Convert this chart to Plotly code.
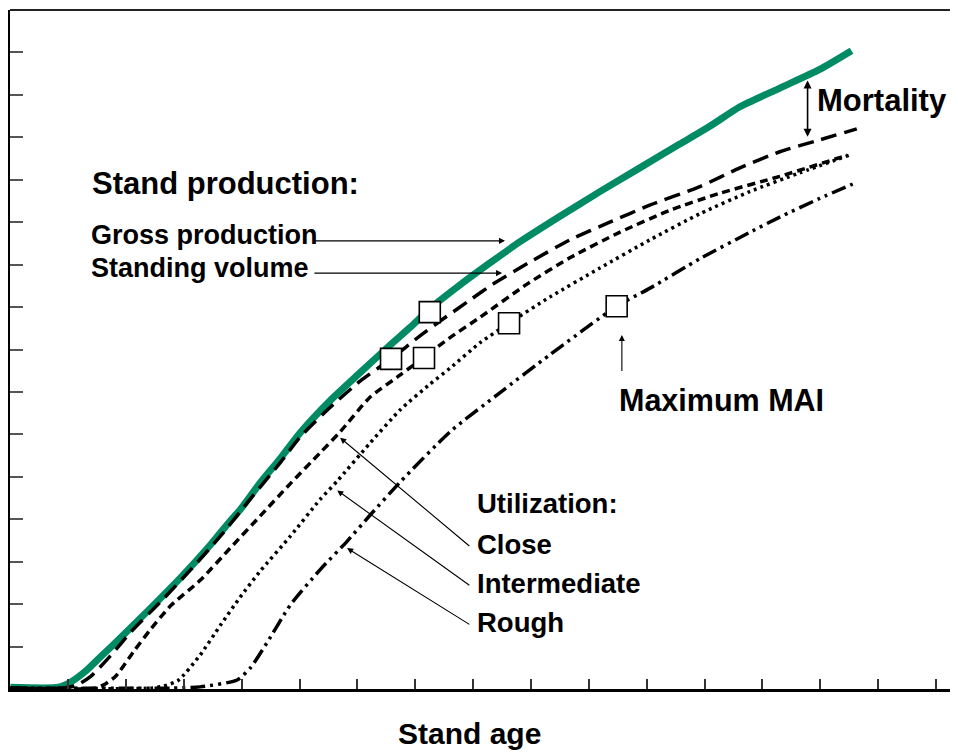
import plotly.graph_objects as go

# ---- data (stand age in years, volume in m3/ha) ----
gross_age = [0, 8.3, 10.4, 13.0, 15.6, 19.0, 24.2, 29.4, 34.6, 38.0, 39.7, 43.2, 46.7, 50.1, 55.3, 60.5,
             65.6, 69.1, 72.5, 77.7, 82.9, 88.1, 95.0, 101.9, 108.8, 115.7, 120.9, 126.1, 133.0, 139.9, 145.4]
gross_vol = [2, 2, 8, 21, 38, 60, 95, 131, 170, 198, 211, 243, 272, 302, 340, 373,
             405, 426, 448, 476, 502, 527, 557, 586, 614, 642, 663, 686, 708, 730, 752]

stand_age = [0, 8.7, 11.3, 13.9, 17.3, 20.8, 26.0, 31.1, 36.3, 41.5, 46.7, 50.1, 55.3, 60.5, 65.8,
             70.8, 74.6, 79.4, 83.4, 89.8, 96.7, 103.6, 110.5, 119.2, 126.1, 133.0, 139.9, 146.3]
stand_vol = [1, 1, 4, 15, 39, 67, 103, 140, 180, 224, 267, 297, 332, 363, 389,
             416, 435, 458, 477, 503, 529, 550, 570, 592, 614, 633, 647, 660]

close_age = [0, 14.7, 16.4, 18.2, 21.3, 24.2, 27.7, 32.8, 38.0, 43.2, 48.4, 53.5, 57.0, 62.2, 67.4,
             71.5, 76.0, 81.2, 89.3, 96.7, 105.3, 114.0, 122.6, 133.0, 144.7]
close_vol = [1, 1, 6, 15, 44, 70, 98, 128, 166, 204, 242, 278, 303, 344, 370,
             391, 414, 438, 477, 508, 538, 564, 584, 604, 629]

inter_age = [0, 24.2, 26.5, 29.0, 32.8, 36.3, 39.7, 43.2, 48.4, 53.5, 56.5, 62.2, 67.4, 72.5, 76.0,
             81.2, 86.2, 93.3, 101.9, 110.5, 119.2, 127.8, 136.4, 145.0]
inter_vol = [1, 1, 3.5, 10, 40, 75, 108, 139, 180, 223, 245, 290, 329, 359, 378,
             408, 431, 462, 496, 529, 560, 586, 608, 629]

rough_age = [0, 27.7, 32.8, 39.2, 41.5, 44.4, 48.4, 53.6, 58.2, 62.2, 67.4, 76.0, 84.6, 93.3, 104.8,
             110.5, 119.2, 127.8, 133.0, 139.9, 145.6]
rough_vol = [1, 1, 2.5, 10.6, 25, 55, 99, 141, 174, 205, 244, 303, 349, 394, 451,
             472, 507, 538, 556, 578, 595]

# maximum mean annual increment points (gross, standing, close, intermediate, rough)
mai_age = [72.5, 65.8, 71.5, 86.2, 104.8]
mai_vol = [444, 389, 390, 431, 451]

GREEN = "#008B65"
FONT = "Liberation Sans, Arial, sans-serif"

fig = go.Figure()
line_kw = dict(mode="lines", hoverinfo="skip", line_shape="spline")
fig.add_trace(go.Scatter(x=gross_age, y=gross_vol, line=dict(color=GREEN, width=7, smoothing=0.6), **line_kw))
fig.add_trace(go.Scatter(x=stand_age, y=stand_vol, line=dict(color="black", width=3.5, dash="16px,8px", smoothing=0.6), **line_kw))
fig.add_trace(go.Scatter(x=close_age, y=close_vol, line=dict(color="black", width=3.5, dash="8px,5px", smoothing=0.6), **line_kw))
fig.add_trace(go.Scatter(x=inter_age, y=inter_vol, line=dict(color="black", width=3.5, dash="3px,4px", smoothing=0.6), **line_kw))
fig.add_trace(go.Scatter(x=rough_age, y=rough_vol, line=dict(color="black", width=3.5, dash="15px,5px,3px,5px,3px,5px", smoothing=0.6), **line_kw))
fig.add_trace(go.Scatter(x=mai_age, y=mai_vol, mode="markers", hoverinfo="skip",
                         marker=dict(symbol="square", size=21, color="white",
                                     line=dict(color="black", width=1.6))))

def label(text, x, y, size, xanchor="left"):
    fig.add_annotation(x=x, y=y, xref="x", yref="y", text="<b>" + text + "</b>", showarrow=False,
                       xanchor=xanchor, yanchor="middle", font=dict(family=FONT, size=size, color="black"))

def arrow(x, y, ax, ay, side="end"):
    fig.add_annotation(x=x, y=y, ax=ax, ay=ay, xref="x", yref="y", axref="x", ayref="y", text="",
                       showarrow=True, arrowhead=2, arrowsize=1.1, arrowwidth=1.1, arrowcolor="black",
                       arrowside=side, standoff=0, startstandoff=0)

label("Stand production:", 13.8, 596, 31)
label("Gross production", 13.6, 535, 27)
label("Standing volume", 13.6, 496, 27)
label("Mortality", 139.1, 693, 31)
label("Maximum MAI", 104.9, 340, 30.5)
label("Utilization:", 80.3, 218, 27.5)
label("Close", 80.3, 170, 27.5)
label("Intermediate", 80.3, 124, 27.5)
label("Rough", 80.3, 78, 27.5)

arrow(85.5, 528, 52.3, 528)
arrow(85.0, 490, 52.3, 490)
arrow(57.0, 296, 79.6, 167)
arrow(56.5, 234, 79.6, 121)
arrow(58.2, 166, 79.6, 75)
arrow(105.7, 417, 105.7, 373)
fig.add_annotation(x=137.8, y=717, ax=137.8, ay=649, xref="x", yref="y", axref="x", ayref="y", text="",
                   showarrow=True, arrowhead=2, arrowsize=1, arrowwidth=1.6, arrowcolor="black",
                   arrowside="end+start", standoff=0, startstandoff=0)

fig.add_annotation(x=0.485, y=-0.065, xref="paper", yref="paper", text="<b>Stand age</b>", showarrow=False,
                   xanchor="center", yanchor="middle", font=dict(family=FONT, size=30, color="black"))

fig.add_shape(type="line", xref="paper", yref="paper", x0=0, x1=1, y0=1, y1=1,
              line=dict(color="#222", width=2))

# the page body has an 8px margin, so the figure is 8px smaller than the window
fig.update_layout(
    width=950, height=746, margin=dict(l=2, r=0, t=2, b=65),
    paper_bgcolor="white", plot_bgcolor="white", showlegend=False,
    xaxis=dict(range=[-0.06, 163.8], tickmode="linear", tick0=0, dtick=10, ticks="inside", ticklen=10,
               tickwidth=1.5, tickcolor="#333", showticklabels=False, showgrid=False, zeroline=False,
               showline=True, linewidth=3, linecolor="black"),
    yaxis=dict(range=[0, 800], tickmode="linear", tick0=0, dtick=50, ticks="inside", ticklen=13,
               tickwidth=1.5, tickcolor="#555", showticklabels=False, showgrid=False, zeroline=False,
               showline=True, linewidth=2, linecolor="black"),
)

fig.write_html("out.html")
